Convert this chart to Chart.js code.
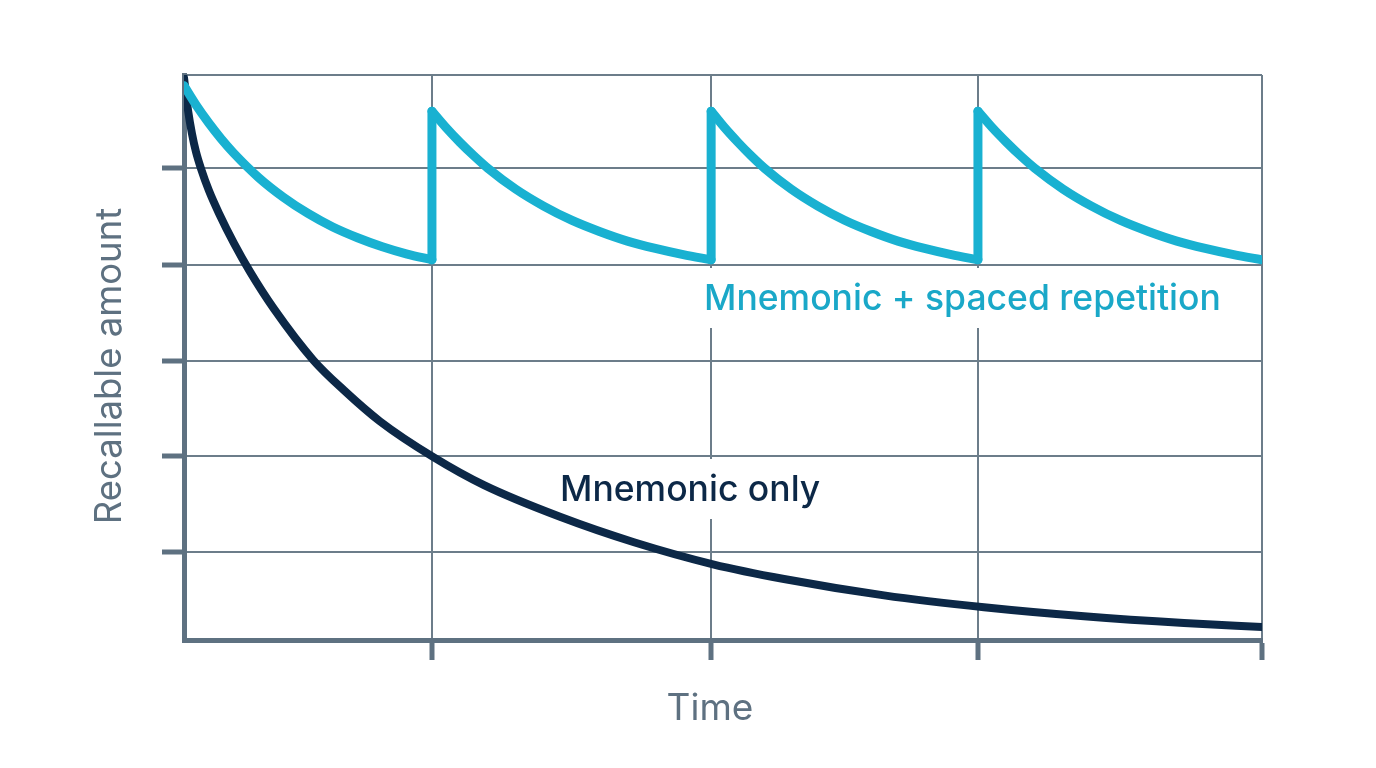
<!DOCTYPE html>
<html>
<head>
<meta charset="utf-8">
<script src="https://cdn.jsdelivr.net/npm/chart.js@4.4.1/dist/chart.umd.min.js"></script>
<style>
  html, body { margin: 0; padding: 0; background: #ffffff; }
  #wrap { width: 1376px; height: 768px; }
</style>
</head>
<body>
<div id="wrap"><canvas id="chart" width="1376" height="768"></canvas></div>
<script>
// tick positions (no labels drawn on either axis)
const timeTicks = [0, 23.0, 48.9, 73.65, 100];
const amountTicks = [15.6, 32.6, 49.4, 66.4, 83.5, 100];

// "Mnemonic only" curve
const onlyTime = [0, 0.37, 0.74, 1.11, 1.58, 2.32, 3.25, 4.64, 6.12, 8.35, 11.97, 14.84, 18.18, 23.1, 27.83, 34.88, 41.74, 49.07, 55.66, 64.94, 74.21, 83.49, 92.76, 100];
const onlyAmount = [99.5, 93.8, 89.6, 86.4, 83.4, 79.5, 75.5, 70.2, 65.2, 58.6, 49.6, 44.2, 38.7, 32.4, 27.4, 21.8, 17.3, 13.4, 10.8, 7.9, 5.8, 4.2, 3.0, 2.3];

// "Mnemonic + spaced repetition": one decay per review interval
const rep1Time = [0, 1.15, 2.3, 3.45, 4.6, 6.9, 9.2, 11.5, 13.8, 16.1, 18.4, 20.7, 23.0];
const rep1Amount = [98.1, 94.6, 91.5, 88.7, 86.2, 81.9, 78.4, 75.5, 73.1, 71.2, 69.6, 68.3, 67.3];
const rep2Time = [23.0, 24.3, 25.59, 26.89, 28.18, 30.77, 33.36, 35.95, 38.54, 41.13, 43.72, 46.31, 48.9];
const rep3Time = [48.9, 50.14, 51.38, 52.61, 53.85, 56.33, 58.8, 61.28, 63.75, 66.23, 68.7, 71.18, 73.65];
const rep4Time = [73.65, 74.97, 76.29, 77.6, 78.92, 81.56, 84.19, 86.83, 89.46, 92.1, 94.73, 97.37, 100];
const repAmount = [93.6, 90.7, 88.1, 85.7, 83.5, 79.8, 76.8, 74.3, 72.3, 70.6, 69.3, 68.2, 67.3];
const reviewTimes = [23.0, 48.9, 73.65];
const reviewFrom = 67.3, reviewTo = 93.6;

const NAVY = "#0c2847";
const CYAN = "#19b1d1";
const GREY = "#5e7181";
const GRID = "#6c7d8a";

const pts = (xs, ys) => xs.map((x, i) => ({ x: x, y: ys[i] }));

const datasets = [];
const cyanLine = (data, mono) => ({
  data: data,
  borderColor: CYAN,
  borderWidth: 9,
  borderCapStyle: "round",
  borderJoinStyle: "round",
  pointRadius: 0,
  fill: false,
  tension: 0,
  cubicInterpolationMode: mono ? "monotone" : "default"
});
datasets.push(cyanLine(pts(rep1Time, rep1Amount), true));
datasets.push(cyanLine(pts(rep2Time, repAmount), true));
datasets.push(cyanLine(pts(rep3Time, repAmount), true));
datasets.push(cyanLine(pts(rep4Time, repAmount), true));
reviewTimes.forEach(t => {
  datasets.push(cyanLine([{ x: t, y: reviewFrom }, { x: t, y: reviewTo }], false));
});
datasets.push({
  data: pts(onlyTime, onlyAmount),
  borderColor: NAVY,
  borderWidth: 8,
  borderCapStyle: "round",
  pointRadius: 0,
  fill: false,
  cubicInterpolationMode: "monotone"
});

// series labels on white boxes, plus the axis titles
const labels = [
  { text: "Mnemonic + spaced repetition", x: 704, y: 310, color: "#1aa8c8", box: [696, 268, 534, 60] },
  { text: "Mnemonic only", x: 560, y: 501, color: NAVY, box: [550, 459, 282, 60] }
];
const labelFont = "500 35.5px Inter";

const annotate = {
  id: "annotate",
  beforeDatasetsDraw(chart) {
    const ctx = chart.ctx;
    ctx.save();
    ctx.fillStyle = "#ffffff";
    labels.forEach(l => ctx.fillRect(l.box[0], l.box[1], l.box[2], l.box[3]));
    ctx.restore();
  },
  afterDatasetsDraw(chart) {
    const ctx = chart.ctx;
    ctx.save();
    ctx.font = labelFont;
    ctx.textAlign = "left";
    ctx.textBaseline = "alphabetic";
    labels.forEach(l => {
      ctx.fillStyle = l.color;
      ctx.fillText(l.text, l.x, l.y);
    });

    ctx.fillStyle = GREY;
    ctx.font = "400 37px Inter";
    ctx.textAlign = "center";
    ctx.fillText("Time", 710, 720);

    ctx.font = "400 36.5px Inter";
    ctx.translate(121, 366);
    ctx.rotate(-Math.PI / 2);
    ctx.fillText("Recallable amount", 0, 0);
    ctx.restore();
  }
};

new Chart(document.getElementById("chart"), {
  type: "line",
  data: { datasets: datasets },
  plugins: [annotate],
  options: {
    responsive: false,
    animation: false,
    layout: { padding: { top: 75, right: 114, left: 0, bottom: 0 } },
    plugins: { legend: { display: false }, tooltip: { enabled: false } },
    scales: {
      x: {
        type: "linear",
        min: 0,
        max: 100,
        afterBuildTicks: s => { s.ticks = timeTicks.map(v => ({ value: v })); },
        afterFit: s => { s.height = 128; },
        ticks: { display: false },
        grid: {
          color: GRID,
          lineWidth: 2,
          tickLength: 20,
          tickWidth: 5,
          tickColor: c => (c.tick && c.tick.value === 0 ? "rgba(0,0,0,0)" : GREY)
        },
        border: { color: GREY, width: 5 }
      },
      y: {
        type: "linear",
        min: 0,
        max: 100,
        afterBuildTicks: s => { s.ticks = amountTicks.map(v => ({ value: v })); },
        afterFit: s => { s.width = 184; },
        ticks: { display: false },
        grid: {
          color: GRID,
          lineWidth: 2,
          tickLength: 22,
          tickWidth: 5,
          tickColor: c => (c.tick && c.tick.value === 100 ? "rgba(0,0,0,0)" : GREY)
        },
        border: { color: GREY, width: 5 }
      }
    }
  }
});
</script>
</body>
</html>
